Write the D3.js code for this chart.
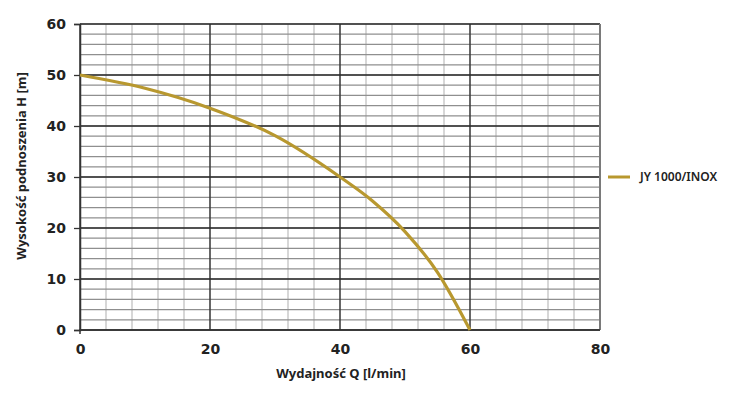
<!DOCTYPE html>
<html>
<head>
<meta charset="utf-8">
<script src="https://cdn.jsdelivr.net/npm/d3@7"></script>
<style>
  body { margin: 0; background: #fff; }
  svg text { font-family: "Noto Sans", sans-serif; fill: #222; }
</style>
</head>
<body>
<div id="chart"></div>
<script>
// pump curve data
var flowQ = [0, 10, 20, 30, 40, 45, 50, 55, 60];
var headH = [50, 47.4, 43.5, 38.1, 30.0, 25.3, 19.3, 11.3, 0];
var xTicks = [0, 20, 40, 60, 80];
var yTicks = [0, 10, 20, 30, 40, 50, 60];
var seriesName = "JY 1000/INOX";

var svgWidth = 731;
var svgHeight = 394;
var margin = { top: 24, right: 131, bottom: 64, left: 80 };
var width = svgWidth - margin.left - margin.right;
var height = svgHeight - margin.top - margin.bottom;

var svg = d3.select("#chart")
  .append("svg")
  .attr("width", svgWidth)
  .attr("height", svgHeight);

var chartGroup = svg.append("g")
  .attr("transform", `translate(${margin.left}, ${margin.top})`);

var x = d3.scaleLinear().domain([0, 80]).range([0, width]);
var y = d3.scaleLinear().domain([0, 60]).range([height, 0]);

// minor grid
chartGroup.selectAll(".vminor")
  .data(d3.range(0, 81, 4))
  .enter().append("line")
  .attr("x1", d => x(d)).attr("x2", d => x(d))
  .attr("y1", 0).attr("y2", height)
  .attr("stroke", "#bdbdbd").attr("stroke-width", 1.2);

chartGroup.selectAll(".hminor")
  .data(d3.range(0, 61, 2))
  .enter().append("line")
  .attr("x1", 0).attr("x2", width)
  .attr("y1", d => y(d)).attr("y2", d => y(d))
  .attr("stroke", "#8f8f8f").attr("stroke-width", 1.2);

// major grid
chartGroup.selectAll(".vmajor")
  .data(xTicks.slice(0, -1))
  .enter().append("line")
  .attr("x1", d => x(d)).attr("x2", d => x(d))
  .attr("y1", 0).attr("y2", height)
  .attr("stroke", "#2a2a2a").attr("stroke-width", 1.3);

chartGroup.selectAll(".hmajor")
  .data(yTicks)
  .enter().append("line")
  .attr("x1", 0).attr("x2", width)
  .attr("y1", d => y(d)).attr("y2", d => y(d))
  .attr("stroke", "#2a2a2a").attr("stroke-width", 1.3);

// right border
chartGroup.append("line")
  .attr("x1", x(80)).attr("x2", x(80))
  .attr("y1", 0).attr("y2", height)
  .attr("stroke", "#7a7a7a").attr("stroke-width", 2);

// axes
var leftAxis = d3.axisLeft(y).tickValues(yTicks).tickSize(6).tickPadding(8);
var bottomAxis = d3.axisBottom(x).tickValues(xTicks).tickSize(0).tickPadding(14);

var gy = chartGroup.append("g").call(leftAxis);
var gx = chartGroup.append("g").attr("transform", `translate(0, ${height})`).call(bottomAxis);

[gy, gx].forEach(function(g) {
  g.selectAll("path").attr("stroke", "#333").attr("stroke-width", 1.5);
  g.selectAll("line").attr("stroke", "#333").attr("stroke-width", 1.3);
  g.selectAll("text")
    .attr("font-size", 14)
    .attr("font-weight", 700)
    .attr("fill", "#222")
    .style("font-family", "'DejaVu Sans', sans-serif");
});
gx.select(".domain").attr("d", `M0,4V0H${width}`);

// curve
var line = d3.line()
  .x((d, i) => x(flowQ[i]))
  .y(d => y(d))
  .curve(d3.curveMonotoneX);

chartGroup.append("path")
  .datum(headH)
  .attr("d", line)
  .attr("fill", "none")
  .attr("stroke", "#b8982f")
  .attr("stroke-width", 3.2);

// legend
var legend = svg.append("g").attr("transform", "translate(608, 177)");
legend.append("line")
  .attr("x1", 0).attr("x2", 22)
  .attr("stroke", "#b8982f").attr("stroke-width", 3);
legend.append("text")
  .attr("x", 32).attr("y", 4)
  .attr("font-size", 12)
  .attr("font-weight", 600)
  .text(seriesName);

// axis titles
svg.append("text")
  .attr("transform", "translate(26, 166) rotate(-90)")
  .attr("text-anchor", "middle")
  .attr("font-size", 13)
  .attr("font-weight", 700)
  .text("Wysokość podnoszenia H [m]");

svg.append("text")
  .attr("x", 341).attr("y", 378)
  .attr("text-anchor", "middle")
  .attr("font-size", 13)
  .attr("font-weight", 700)
  .text("Wydajność Q [l/min]");
</script>
</body>
</html>
